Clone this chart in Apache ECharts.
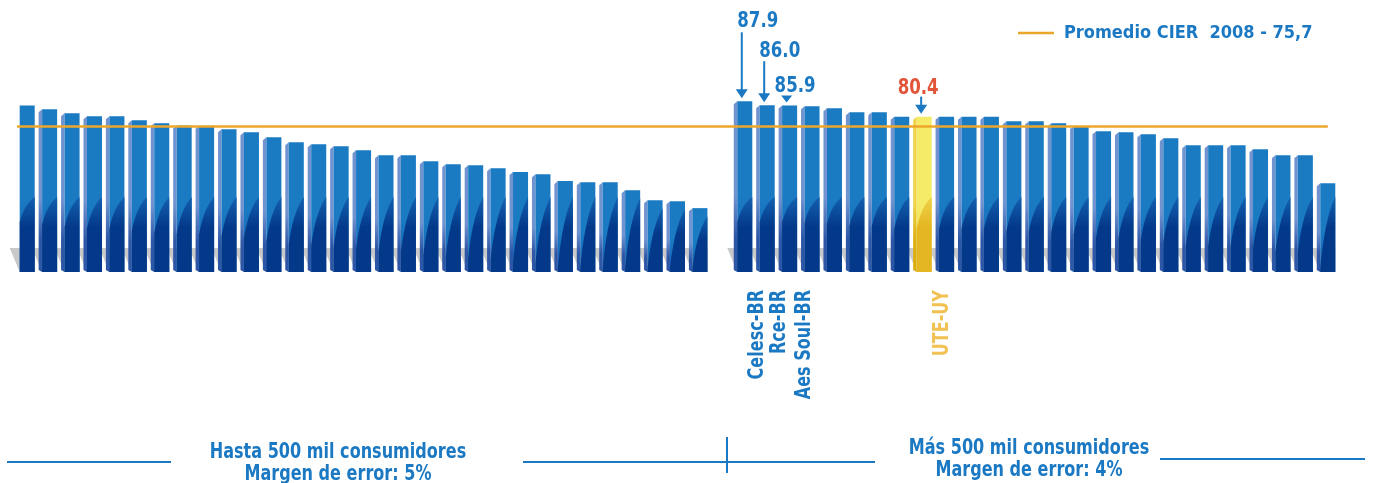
<!DOCTYPE html>
<html>
<head>
<meta charset="utf-8">
<title>Satisfacción CIER 2008</title>
<script src="https://cdn.jsdelivr.net/npm/echarts@6.0.0/dist/echarts.min.js"></script>
<style>
  html, body { margin: 0; padding: 0; background: #fff; }
  #chart { width: 1373px; height: 483px; }
</style>
</head>
<body>
<div id="chart"></div>
<script>
// valores (hasta 500 mil / más de 500 mil consumidores)
const smallCompanies = [85.9, 84.0, 82.0, 80.6, 80.6, 78.6, 77.2, 76.1, 75.9, 74.2, 72.8, 70.3, 67.9, 66.9, 65.9, 64.0,
  61.5, 61.5, 58.6, 57.2, 56.7, 55.2, 53.3, 52.3, 48.9, 48.4, 48.4, 44.5, 39.6, 39.1, 35.7];
const bigCompanies = [87.9, 86.0, 85.9, 85.5, 84.5, 82.5, 82.5, 80.4, 80.4, 80.4, 80.4, 80.4, 78.1, 78.1, 77.2, 75.8,
  73.3, 72.8, 71.8, 69.8, 66.4, 66.4, 66.4, 64.5, 61.5, 61.5, 47.9];
const cierAverage = 75.7;
const legendName = 'Promedio CIER  2008 - 75,7';
const namedBars = [0, 1, 2, 8]; // posicion dentro de bigCompanies
const namedLabels = ['Celesc-BR', 'Rce-BR', 'Aes Soul-BR', 'UTE-UY'];
const uteBar = 8;

// no hay fuente condensada: se estrecha el texto con scaleX
const FONT = '"DejaVu Sans Condensed", "DejaVu Sans", sans-serif';
const NARROW = 0.85;
const BLUE = '#1b79c3';
const Y_MIN = 4.5, Y_MAX = 90;

// una columna vacia separa los dos grupos
const values = smallCompanies.concat([null], bigCompanies);
const offset = smallCompanies.length + 1;
const uteSlot = offset + uteBar;
const categories = values.map((v, i) => String(i));
const barData = [];
values.forEach((v, i) => { if (v != null) barData.push([i, v]); });
const annoData = namedBars.map((b, k) => [offset + b, bigCompanies[b], k]);

// posiciones de las flechas y textos (px relativos a la cima de la barra)
const annoLayout = [
  { labelDx: 13, labelUp: 80, arrowUp: 69, head: [12, 9], nameDx: 12.5 },
  { labelDx: 12.5, labelUp: 54, arrowUp: 44, head: [12, 9], nameDx: 12.5 },
  { labelDx: 5.5, labelUp: 19, arrowUp: 0, head: [11, 7], nameDx: 14.5 },
  { labelDx: -6, labelUp: 28, arrowUp: 20, head: [12, 9], nameDx: 18 }
];

const palettes = {
  blue: { light: '#1a7bc3', mid: '#1565b4', dark: '#1460b0', deep: '#043989', sideTop: '#7194d0', sideBottom: '#2d56a7' },
  ute: { light: '#f5eb66', mid: '#f1dc55', dark: '#efd24a', deep: '#e4b623', sideTop: '#eed44a', sideBottom: '#dcae12' }
};

function vgrad(stops) {
  return { type: 'linear', x: 0, y: 0, x2: 0, y2: 1, colorStops: stops.map(s => ({ offset: s[0], color: s[1] })) };
}

function barGeom(api) {
  const idx = api.value(0);
  const top = api.coord([idx, api.value(1)]);
  const base = api.coord([idx, Y_MIN]);
  const w = api.size([1, 0])[0] * 0.67;
  return { idx: idx, L: top[0] - w / 2, R: top[0] + w / 2, T: top[1], B: base[1], w: w, cx: top[0] };
}

function renderShadow(params, api) {
  const g = barGeom(api);
  return {
    type: 'polygon',
    shape: { points: [[g.L - 10, g.B - 24], [g.R, g.B - 24], [g.R, g.B], [g.L, g.B]] },
    style: { fill: '#c9c9c9' }
  };
}

function renderBar(params, api) {
  const g = barGeom(api);
  const c = g.idx === uteSlot ? palettes.ute : palettes.blue;
  const rightY = Math.max(g.T + 8, 197);
  const leftY = Math.min(g.B - 4, 222 + Math.max(0, g.T - 105) * 0.6);
  // borde curvo de la parte oscura
  const pts = [];
  const ctrl = [g.L + g.w * 0.3, rightY + (leftY - rightY) * 0.3];
  for (let k = 0; k <= 12; k++) {
    const t = k / 12;
    const x = (1 - t) * (1 - t) * g.L + 2 * (1 - t) * t * ctrl[0] + t * t * g.R;
    const y = (1 - t) * (1 - t) * leftY + 2 * (1 - t) * t * ctrl[1] + t * t * rightY;
    pts.push([x, y]);
  }
  pts.push([g.R, g.B], [g.L, g.B]);
  const children = [];
  if (g.idx > 0) {
    children.push({
      type: 'polygon',
      shape: { points: [[g.L - 3.5, g.T + 3], [g.L, g.T], [g.L, g.B], [g.L - 3.5, g.B - 2]] },
      style: { fill: vgrad([[0, c.sideTop], [0.55, c.sideTop], [0.8, c.sideBottom], [1, c.sideBottom]]) }
    });
  }
  children.push({
    type: 'rect',
    shape: { x: g.L, y: g.T, width: g.w, height: g.B - g.T },
    style: { fill: vgrad([[0, c.light], [0.55, c.light], [0.9, c.mid], [1, c.mid]]) }
  });
  children.push({
    type: 'polygon',
    shape: { points: pts },
    style: { fill: vgrad([[0, c.dark], [0.4, c.deep], [1, c.deep]]) }
  });
  return { type: 'group', children: children };
}

function renderAnno(params, api) {
  const g = barGeom(api);
  const k = api.value(2);
  const lay = annoLayout[k];
  const isUte = g.idx === uteSlot;
  const ax = g.cx - 3;
  const tip = g.T - 3;
  const hw = lay.head[0] / 2, hh = lay.head[1];
  const children = [];
  if (lay.arrowUp > 0) {
    children.push({
      type: 'line',
      shape: { x1: ax, y1: g.T - lay.arrowUp, x2: ax, y2: tip - hh + 1 },
      style: { stroke: BLUE, lineWidth: 2 }
    });
  }
  children.push({
    type: 'polygon',
    shape: { points: [[ax - hw, tip - hh], [ax + hw, tip - hh], [ax, tip]] },
    style: { fill: BLUE }
  });
  children.push({
    type: 'text',
    x: g.cx + lay.labelDx,
    y: g.T - lay.labelUp,
    scaleX: 0.88,
    style: {
      text: api.value(1).toFixed(1),
      fill: isUte ? '#e2553a' : BLUE,
      font: 'bold 21px ' + FONT,
      textAlign: 'center',
      textVerticalAlign: 'middle'
    }
  });
  children.push({
    type: 'text',
    x: g.cx + lay.nameDx,
    y: g.B + 18,
    rotation: Math.PI / 2,
    scaleX: NARROW,
    style: {
      text: namedLabels[k],
      fill: isUte ? '#f1c253' : BLUE,
      font: 'bold 21px ' + FONT,
      textAlign: 'right',
      textVerticalAlign: 'middle'
    }
  });
  return { type: 'group', children: children };
}

const chart = echarts.init(document.getElementById('chart'), null, { renderer: 'canvas' });
chart.setOption({
  backgroundColor: '#fff',
  animation: false,
  grid: { left: 16, right: 34, top: 97, bottom: 211 },
  legend: {
    left: 1018, top: 24, padding: 0,
    icon: 'rect', itemWidth: 36, itemHeight: 2.5,
    data: [legendName],
    textStyle: { color: BLUE, fontSize: 18, fontWeight: 'bold', fontFamily: FONT, padding: [0, 0, 0, 5] }
  },
  xAxis: { type: 'category', data: categories, show: false },
  yAxis: { type: 'value', min: Y_MIN, max: Y_MAX, show: false },
  series: [
    { type: 'custom', name: 'sombra', renderItem: renderShadow, data: barData, z: 1, silent: true },
    { type: 'custom', name: 'indice', renderItem: renderBar, data: barData, z: 2 },
    {
      type: 'line', name: legendName, data: [], color: '#eca72b', z: 3,
      markLine: {
        silent: true, symbol: 'none', label: { show: false },
        lineStyle: { color: '#eca72b', width: 2.5, type: 'solid' },
        data: [[{ x: 17, yAxis: cierAverage }, { xAxis: values.length - 1, yAxis: cierAverage }]]
      }
    },
    { type: 'custom', name: 'destacadas', renderItem: renderAnno, data: annoData, z: 4, silent: true }
  ],
  graphic: [
    { type: 'line', shape: { x1: 7, y1: 462, x2: 171, y2: 462 }, style: { stroke: BLUE, lineWidth: 2 } },
    { type: 'line', shape: { x1: 523, y1: 462, x2: 875, y2: 462 }, style: { stroke: BLUE, lineWidth: 2 } },
    { type: 'line', shape: { x1: 727, y1: 437, x2: 727, y2: 473 }, style: { stroke: BLUE, lineWidth: 2 } },
    { type: 'line', shape: { x1: 1160, y1: 459, x2: 1365, y2: 459 }, style: { stroke: BLUE, lineWidth: 2 } },
    {
      type: 'text', x: 338, y: 442, scaleX: NARROW,
      style: { text: 'Hasta 500 mil consumidores\nMargen de error: 5%', fill: BLUE, font: 'bold 21px ' + FONT,
        textAlign: 'center', textVerticalAlign: 'top', lineHeight: 22 }
    },
    {
      type: 'text', x: 1029, y: 438, scaleX: NARROW,
      style: { text: 'Más 500 mil consumidores\nMargen de error: 4%', fill: BLUE, font: 'bold 21px ' + FONT,
        textAlign: 'center', textVerticalAlign: 'top', lineHeight: 22 }
    }
  ]
});
</script>
</body>
</html>
